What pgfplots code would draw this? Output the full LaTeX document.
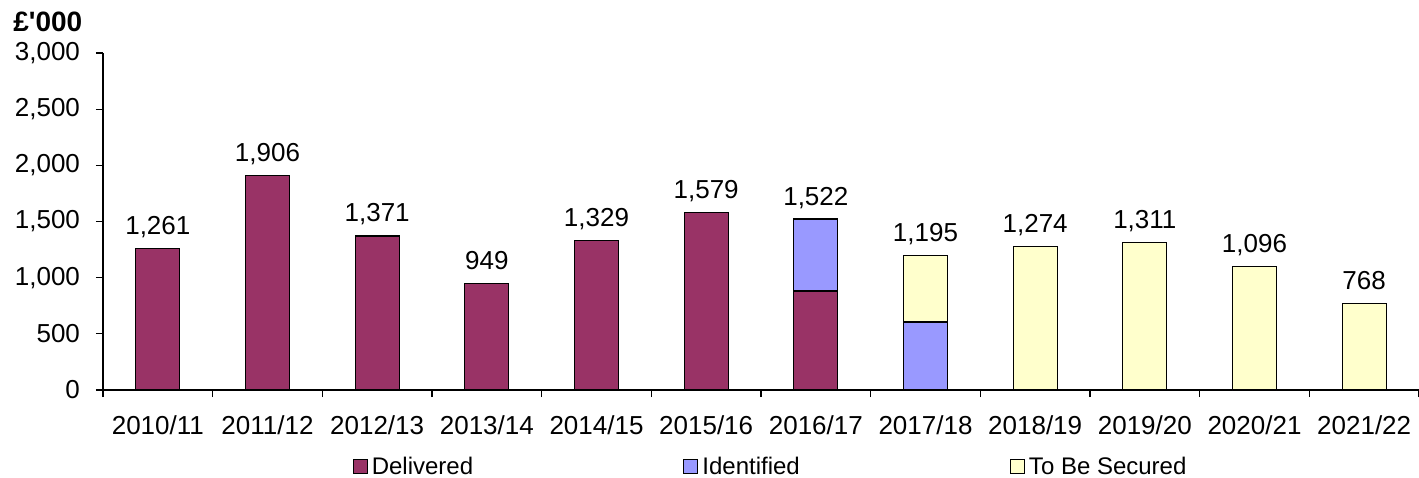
\documentclass[border=0pt]{standalone}
\usepackage{pgfplots}
\pgfplotsset{compat=1.18}
\usepackage{pgfplotstable}
\usepackage{fontspec}
\setmainfont{Liberation Sans}
\newfontfamily\plainsans{Liberation Sans}
\definecolor{delivered}{HTML}{993366}
\definecolor{identified}{HTML}{9999FF}
\definecolor{tbs}{HTML}{FFFFCC}
\pgfplotstableread{
x del ide tbs total
0 1261 0 0 1261
1 1906 0 0 1906
2 1371 0 0 1371
3 949 0 0 949
4 1329 0 0 1329
5 1579 0 0 1579
6 881 641 0 1522
7 0 605 590 1195
8 0 0 1274 1274
9 0 0 1311 1311
10 0 0 1096 1096
11 0 0 768 768
}\data
\begin{document}
\begin{tikzpicture}
\begin{axis}[
  at={(0,0)}, anchor=south west,
  width=658pt, height=168.5pt, scale only axis,
  ybar, bar width=22pt, bar shift=0pt,
  xmin=-0.5, xmax=11.5, ymin=0, ymax=3000,
  ytick={0,500,...,3000},
  xtick={0,...,11},
  xticklabels={2010/11,2011/12,2012/13,2013/14,2014/15,2015/16,2016/17,2017/18,2018/19,2019/20,2020/21,2021/22},
  minor xtick={-0.5,0.5,...,11.5},
  major x tick style={draw=none},
  major tick length=3.5pt, minor tick length=3.5pt,
  tick align=outside,
  axis x line*=bottom, axis y line*=left,
  axis line style={line width=0.6pt, black, -},
  tick style={black, line width=0.6pt},
  /pgf/number format/.cd, 1000 sep={,}, assume math mode=true, /pgfplots/.cd,
  tick label style={font=\fontsize{13}{15}\selectfont},
  xticklabel style={yshift=-6pt},
  yticklabel style={xshift=-4.5pt},
  every axis plot/.append style={draw=black, line width=0.6pt},
  legend columns=3, reverse legend,
  legend style={draw=none, at={(0.508,-0.228)}, anchor=center,
    font=\fontsize{12}{14}\selectfont,
    /tikz/every even column/.append style={column sep=103pt}},
  legend image code/.code={\draw[#1] (0pt,-3.5pt) rectangle (7pt,3.5pt);},
  clip=false,
]
% drawn back to front: each bar segment reaches its cumulative top
\addplot[fill=tbs] table[x=x, y expr={\thisrow{tbs}>0 ? \thisrow{del}+\thisrow{ide}+\thisrow{tbs} : 0}]{\data};
\addlegendentry{To Be Secured}
\addplot[fill=identified] table[x=x, y expr={\thisrow{ide}>0 ? \thisrow{del}+\thisrow{ide} : 0}]{\data};
\addlegendentry{Identified}
\addplot[fill=delivered] table[x=x,y=del]{\data};
\addlegendentry{Delivered}
\addplot[draw=none, fill=none, forget plot, nodes near coords, point meta=y,
  every node near coord/.style={anchor=base, inner sep=0pt, yshift=7pt, font=\fontsize{13}{15}\selectfont, black}]
  table[x=x,y=total]{\data};
\node[anchor=west, inner sep=0pt, font=\fontsize{14}{16}\selectfont] at (axis description cs:-0.0684,1.092) {\plainsans\bfseries £'000};
\end{axis}
\pgfresetboundingbox
\path[use as bounding box] (-51.5pt,-43.5pt) rectangle (658pt,195pt);
\end{tikzpicture}
\end{document}
